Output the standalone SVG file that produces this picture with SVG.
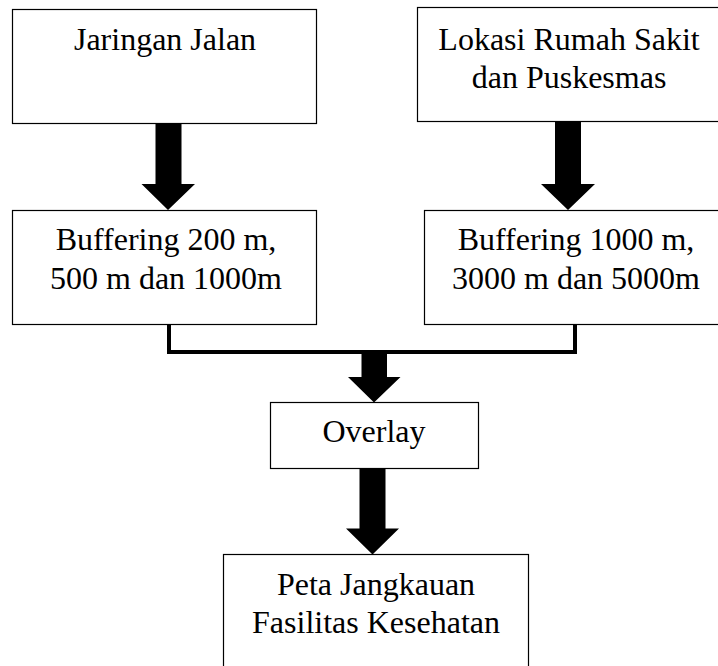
<svg xmlns="http://www.w3.org/2000/svg" width="718" height="666" viewBox="0 0 718 666">
<style>
.box{fill:#fff;stroke:#000;stroke-width:1.2}
.t{font-family:"Liberation Serif","Times New Roman",serif;font-size:32px;fill:#000;text-anchor:middle}
.arr{fill:#000}
.ln{fill:none;stroke:#000;stroke-width:4;stroke-linejoin:miter}
</style>
<rect width="718" height="666" fill="#fff"/>
<g id="connectors">
<polyline class="ln" points="169,324 169,352 575,352 575,324"/>
<polygon class="arr" points="155.5,123 181.5,123 181.5,184 195,184 168,210 141.5,184 155.5,184"/>
<polygon class="arr" points="555,122 581,122 581,184 595,184 568,210 541,184 555,184"/>
<polygon class="arr" points="361.5,352 387,352 387,377 400.5,377 374,402.5 348,377 361.5,377"/>
<polygon class="arr" points="359.5,468 385.5,468 385.5,528.5 399,528.5 372.5,554.5 346,528.5 359.5,528.5"/>
</g>
<g id="jaringan-jalan">
<rect class="box" x="12.5" y="9.5" width="304" height="114"/>
<text class="t" x="165" y="50">Jaringan Jalan</text>
</g>
<g id="lokasi-rs">
<rect class="box" x="417.5" y="7.5" width="302" height="114"/>
<text class="t" x="569" y="50">Lokasi Rumah Sakit</text>
<text class="t" x="569" y="88">dan Puskesmas</text>
</g>
<g id="buffering-jalan">
<rect class="box" x="12.5" y="210.5" width="304" height="114"/>
<text class="t" x="166" y="250">Buffering 200 m,</text>
<text class="t" x="166" y="289">500 m dan 1000m</text>
</g>
<g id="buffering-rs">
<rect class="box" x="424.5" y="210.5" width="296" height="114"/>
<text class="t" x="576" y="250">Buffering 1000 m,</text>
<text class="t" x="576" y="289">3000 m dan 5000m</text>
</g>
<g id="overlay">
<rect class="box" x="270.5" y="402.5" width="208" height="66"/>
<text class="t" x="374" y="442">Overlay</text>
</g>
<g id="peta">
<rect class="box" x="223.5" y="554.5" width="305" height="130"/>
<text class="t" x="376" y="595">Peta Jangkauan</text>
<text class="t" x="376" y="633">Fasilitas Kesehatan</text>
</g>
</svg>
